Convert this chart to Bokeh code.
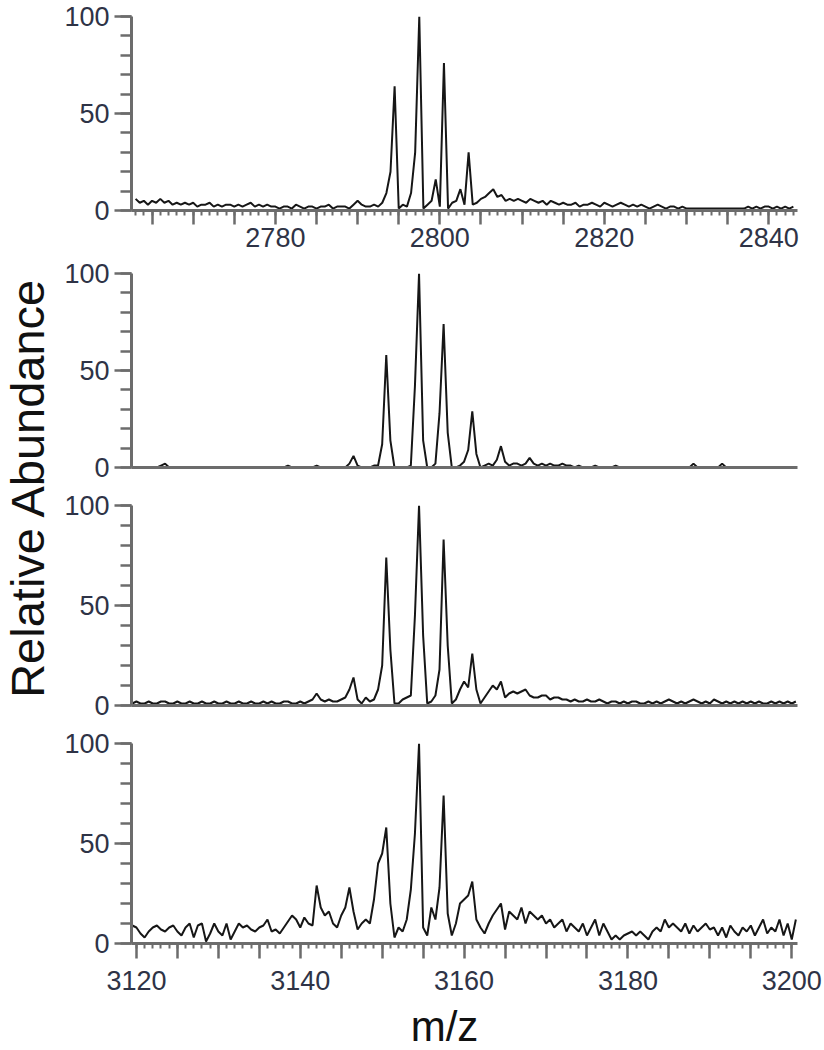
import numpy as np
from bokeh.plotting import figure
from bokeh.models import Range1d, FixedTicker, Label
from bokeh.layouts import row, column
from bokeh.embed import file_html
from bokeh.resources import INLINE

FONT = "Liberation Sans"

# ---------------- data (relative abundance, sampled every 0.5 m/z) ----------------
MZ_STEP = 0.5
MZ_START_TOP = 2763.0     # first sample of the top spectrum
MZ_START_LOW = 3119.5     # first sample of the three lower spectra

abundance_top = [
    6, 4, 5, 3, 5, 4, 6, 4, 5, 3,
    4, 3, 4, 3, 4, 2, 3, 3, 4, 2,
    3, 2, 3, 3, 2, 3, 2, 3, 4, 2,
    3, 2, 3, 2, 2, 1, 2, 2, 1, 3,
    2, 1, 2, 2, 1, 2, 2, 3, 1, 2,
    2, 2, 1, 3, 5, 3, 2, 2, 3, 2,
    4, 9, 20, 64, 1, 3, 2, 9, 30, 100,
    1, 3, 5, 16, 2, 76, 1, 4, 5, 11,
    3, 30, 3, 4, 6, 7, 9, 11, 7, 8,
    5, 6, 5, 6, 5, 4, 6, 5, 4, 5,
    3, 5, 4, 3, 4, 3, 3, 4, 2, 3,
    3, 4, 3, 2, 4, 3, 2, 3, 4, 3,
    2, 3, 2, 3, 2, 1, 2, 3, 2, 1,
    2, 2, 1, 2, 1, 1, 1, 1, 1, 1,
    1, 1, 1, 1, 1, 1, 1, 1, 1, 2,
    1, 2, 1, 2, 2, 1, 2, 1, 2, 1,
    2,
]

abundance_p2 = [
    0, 0, 0, 0, 0, 0, 0, 1, 2, 0,
    0, 0, 0, 0, 0, 0, 0, 0, 0, 0,
    0, 0, 0, 0, 0, 0, 0, 0, 0, 0,
    0, 0, 0, 0, 0, 0, 0, 0, 1, 0,
    0, 0, 0, 0, 0, 1, 0, 0, 0, 0,
    0, 0, 0, 2, 6, 1, 0, 0, 0, 1,
    1, 12, 58, 14, 0, 0, 0, 0, 1, 42,
    100, 14, 0, 0, 2, 28, 74, 18, 0, 0,
    1, 3, 9, 29, 7, 0, 1, 2, 1, 4,
    11, 3, 1, 2, 2, 1, 2, 5, 2, 1,
    2, 1, 2, 1, 1, 2, 1, 1, 0, 1,
    0, 0, 0, 1, 0, 0, 0, 0, 1, 0,
    0, 0, 0, 0, 0, 0, 0, 0, 0, 0,
    0, 0, 0, 0, 0, 0, 0, 2, 0, 0,
    0, 0, 0, 0, 2, 0, 0, 0, 0, 0,
    0, 0, 0, 0, 0, 0, 0, 0, 0, 0,
    0, 0, 0,
]

abundance_p3 = [
    1, 2, 1, 1, 2, 1, 1, 2, 2, 1,
    1, 2, 1, 1, 2, 1, 1, 2, 1, 1,
    2, 1, 1, 2, 1, 1, 2, 1, 1, 2,
    1, 1, 2, 1, 2, 1, 1, 2, 2, 1,
    1, 2, 1, 2, 3, 6, 3, 2, 3, 2,
    2, 3, 4, 8, 14, 3, 1, 4, 2, 3,
    8, 20, 74, 28, 1, 1, 3, 4, 5, 45,
    100, 35, 1, 2, 5, 18, 83, 30, 1, 3,
    8, 12, 9, 26, 8, 1, 4, 7, 10, 8,
    12, 4, 6, 7, 6, 7, 8, 5, 4, 4,
    5, 5, 3, 4, 4, 3, 3, 2, 3, 2,
    2, 3, 2, 2, 3, 2, 1, 2, 2, 1,
    2, 1, 2, 2, 1, 1, 2, 1, 2, 1,
    2, 3, 2, 1, 2, 1, 2, 3, 2, 1,
    2, 1, 3, 2, 1, 2, 1, 2, 1, 2,
    1, 2, 1, 2, 1, 1, 2, 1, 2, 1,
    2, 1, 2,
]

abundance_p4 = [
    9, 8, 5, 3, 6, 8, 9, 7, 6, 8,
    9, 6, 4, 8, 10, 3, 9, 10, 1, 5,
    10, 6, 4, 10, 2, 6, 10, 8, 9, 7,
    6, 8, 9, 12, 6, 7, 5, 8, 11, 14,
    12, 8, 13, 10, 9, 29, 18, 14, 16, 10,
    8, 14, 18, 28, 16, 7, 10, 12, 10, 22,
    40, 45, 58, 20, 3, 8, 6, 12, 27, 55,
    100, 8, 4, 18, 12, 28, 74, 15, 4, 10,
    20, 22, 24, 31, 12, 8, 5, 10, 14, 17,
    20, 7, 16, 14, 12, 18, 10, 16, 14, 12,
    14, 10, 12, 8, 10, 12, 6, 10, 8, 6,
    10, 4, 8, 12, 4, 10, 6, 2, 4, 2,
    4, 5, 6, 4, 6, 4, 2, 6, 8, 6,
    12, 8, 10, 8, 6, 10, 5, 9, 6, 8,
    10, 7, 8, 4, 8, 3, 9, 6, 4, 8,
    6, 9, 4, 8, 12, 5, 8, 6, 12, 4,
    10, 2, 12,
]

x_range_top = (2762.5, 2843.5)
x_range_low = (3119.4, 3200.7)
x_labels_top = [2780, 2800, 2820, 2840]
x_labels_low = [3120, 3140, 3160, 3180, 3200]
y_labels = [0, 50, 100]
y_minor = [0, 10, 20, 30, 40, 50, 60, 70, 80, 90, 100]

AXIS_COLOR = "#6c6c6c"
LABEL_COLOR = "#2e3346"
LINE_COLOR = "#161616"
TICK_FONT_SIZE = "27px"


def mz_axis(start, n):
    return start + MZ_STEP * np.arange(n)


def make_panel(xs, ys, xr, frame_h, b_top, b_bottom, labels,
               tick_out=15, standoff=6):
    p = figure(frame_width=666, frame_height=frame_h,
               x_range=Range1d(*xr), y_range=Range1d(0, 100),
               output_backend="svg", toolbar_location=None,
               min_border_left=75, min_border_right=27,
               min_border_top=b_top, min_border_bottom=b_bottom,
               outline_line_color=None, background_fill_color="white")
    p.xgrid.visible = False
    p.ygrid.visible = False

    # y axis
    ya = p.yaxis[0]
    ya.ticker = FixedTicker(ticks=y_labels, minor_ticks=y_minor)
    ya.axis_line_color = AXIS_COLOR
    ya.axis_line_width = 3
    ya.major_tick_line_color = AXIS_COLOR
    ya.minor_tick_line_color = AXIS_COLOR
    ya.major_tick_line_width = 2.5
    ya.minor_tick_line_width = 2.5
    ya.major_tick_out = 17
    ya.major_tick_in = 0
    ya.minor_tick_out = 11
    ya.minor_tick_in = 0
    ya.major_label_standoff = 5
    ya.major_label_text_font = FONT
    ya.major_label_text_font_size = TICK_FONT_SIZE
    ya.major_label_text_color = LABEL_COLOR

    # x axis
    xa = p.xaxis[0]
    xa.axis_line_color = AXIS_COLOR
    xa.axis_line_width = 3
    if labels:
        lo, hi = xr
        majors = [t for t in range(int(np.ceil(lo)), int(hi) + 1) if t % 5 == 0]
        minors = list(range(int(np.ceil(lo)), int(hi) + 1))
        xa.ticker = FixedTicker(ticks=majors, minor_ticks=minors)
        xa.major_label_overrides = {t: "" for t in majors if t not in labels}
        xa.major_tick_line_color = AXIS_COLOR
        xa.minor_tick_line_color = AXIS_COLOR
        xa.major_tick_line_width = 2.5
        xa.minor_tick_line_width = 2
        xa.major_tick_out = tick_out
        xa.major_tick_in = 0
        xa.minor_tick_out = 5
        xa.minor_tick_in = 0
        xa.major_label_standoff = standoff
        xa.major_label_text_font = FONT
        xa.major_label_text_font_size = TICK_FONT_SIZE
        xa.major_label_text_color = LABEL_COLOR
    else:
        xa.ticker = FixedTicker(ticks=[], minor_ticks=[])
        xa.major_tick_line_color = None
        xa.minor_tick_line_color = None

    p.line(xs, ys, line_color=LINE_COLOR, line_width=2)
    return p


p1 = make_panel(mz_axis(MZ_START_TOP, len(abundance_top)), abundance_top,
                x_range_top, 194, 16, 48, x_labels_top, tick_out=14, standoff=3)
p2 = make_panel(mz_axis(MZ_START_LOW, len(abundance_p2)), abundance_p2,
                x_range_low, 194, 15, 22, None)
p3 = make_panel(mz_axis(MZ_START_LOW, len(abundance_p3)), abundance_p3,
                x_range_low, 200, 16, 22, None)
p4 = make_panel(mz_axis(MZ_START_LOW, len(abundance_p4)), abundance_p4,
                x_range_low, 200, 16, 58, x_labels_low, tick_out=15, standoff=12)

panels = column(p1, p2, p3, p4)
PANELS_HEIGHT = 258 + 231 + 238 + 274   # sum of the four panel heights

# rotated y title in its own narrow strip
lab = figure(width=56, height=PANELS_HEIGHT, x_range=Range1d(0, 1), y_range=Range1d(0, 1),
             output_backend="svg", toolbar_location=None, min_border=0,
             x_axis_location=None, y_axis_location=None, outline_line_color=None)
lab.grid.visible = False
lab.add_layout(Label(x=27, y=PANELS_HEIGHT - 487, x_units="screen", y_units="screen",
                     text="Relative Abundance", angle=np.pi / 2,
                     text_align="center", text_baseline="middle",
                     text_font=FONT, text_font_size="47px", text_color="#111111"))

# x title strip
BOTTOM_H = 1050 - PANELS_HEIGHT
bottom = figure(width=824, height=BOTTOM_H, x_range=Range1d(0, 1), y_range=Range1d(0, 1),
                output_backend="svg", toolbar_location=None, min_border=0,
                x_axis_location=None, y_axis_location=None, outline_line_color=None)
bottom.grid.visible = False
bottom.add_layout(Label(x=444, y=24, x_units="screen", y_units="screen",
                        text="m/z", text_align="center", text_baseline="middle",
                        text_font=FONT, text_font_size="42px", text_color="#111111"))

layout = column(row(lab, panels), bottom)

open("out.html", "w").write(file_html(layout, INLINE))
